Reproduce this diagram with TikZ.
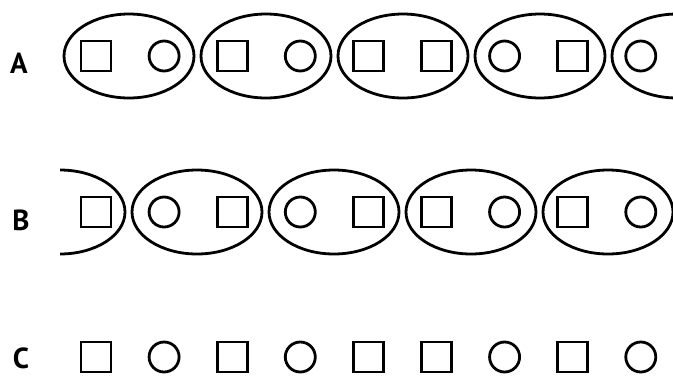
\documentclass[tikz,border=0pt]{standalone}
\usepackage{fontspec}
\setsansfont{PT Sans}
\usetikzlibrary{shapes.geometric}

\begin{document}
\begin{tikzpicture}[x=1pt, y=-1pt,
  sym/.style={draw=black, line width=2.8pt, minimum size=30pt, inner sep=0pt},
  pair/.style={ellipse, draw=black, line width=2.8pt, minimum width=130pt, minimum height=84pt, inner sep=0pt},
  lab/.style={font=\sffamily\bfseries\fontsize{29}{29}\selectfont, inner sep=0pt}]

  % Page frame
  \clip (0,0) rectangle (673,376);

  % Row labels
  \node[lab] (labA) at (19,63) {A};
  \node[lab] (labB) at (21,220) {B};
  \node[lab] (labC) at (21,358) {C};

  % Symbols, same sequence in each row
  \foreach \r/\y in {A/56, B/212, C/357} {
    \foreach \k/\t in {1/rectangle, 2/circle, 3/rectangle, 4/circle, 5/rectangle,
                       6/rectangle, 7/circle, 8/rectangle, 9/circle} {
      \pgfmathsetmacro{\x}{96+68.1*(\k-1)}
      \node[sym, shape=\t] (\r-\k) at (\x,\y) {};
    }
  }

  % Row A groupings
  \foreach \k in {0,...,4} {
    \node[pair] (pA-\k) at (129+137*\k, 56) {};
  }

  % Row B groupings (first one cut in half)
  \begin{scope}
    \clip (60,150) rectangle (200,280);
    \node[pair] (pB-0) at (60,212) {};
  \end{scope}
  \foreach \k in {1,...,4} {
    \node[pair] (pB-\k) at (60+137*\k, 212) {};
  }

\end{tikzpicture}
\end{document}
